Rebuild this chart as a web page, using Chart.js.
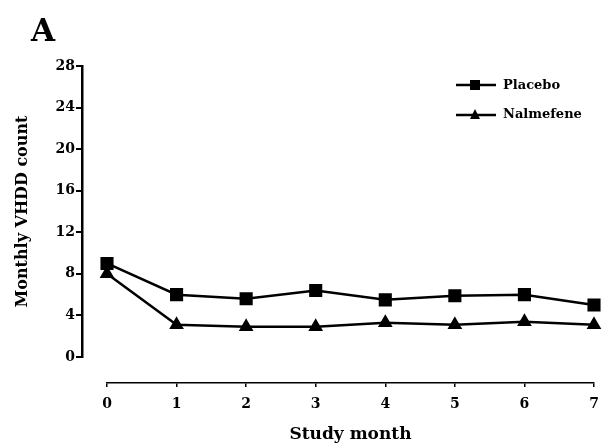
<!DOCTYPE html>
<html>
<head>
<meta charset="utf-8">
<script src="https://cdn.jsdelivr.net/npm/chart.js@4"></script>
<style>
  body { margin: 0; background: #fff; }
  #wrap { position: relative; width: 604px; height: 445px; }
  #panel { position: absolute; left: 31px; top: 12px; font: bold 31px "DejaVu Serif", serif; color: #000; }
  #legend { position: absolute; left: 455px; top: 70px; font: bold 13px "DejaVu Serif", serif; color: #000; }
  #legend div { display: flex; align-items: center; height: 29px; }
  #legend svg { margin-right: 6px; }
</style>
</head>
<body>
<div id="wrap">
  <canvas id="vhdd-chart" width="604" height="445"></canvas>
  <div id="panel">A</div>
  <div id="legend">
    <div><svg width="42" height="14"><line x1="1" y1="7" x2="41" y2="7" stroke="#000" stroke-width="2.5"/><rect x="15" y="2" width="10" height="10" fill="#000"/></svg>Placebo</div>
    <div><svg width="42" height="14"><line x1="1" y1="8" x2="41" y2="8" stroke="#000" stroke-width="2.5"/><polygon points="20,2 25,12 15,12" fill="#000"/></svg>Nalmefene</div>
  </div>
</div>
<script>
const months = ['0', '1', '2', '3', '4', '5', '6', '7'];
const placebo = [9.0, 6.0, 5.6, 6.4, 5.5, 5.9, 6.0, 5.0];
const nalmefene = [8.0, 3.1, 2.9, 2.9, 3.3, 3.1, 3.4, 3.1];
const yTicks = [0, 4, 8, 12, 16, 20, 24, 28];

const serif = '"DejaVu Serif", serif';

new Chart(document.getElementById('vhdd-chart'), {
    type: 'line',
    data: {
        labels: months,
        datasets: [
            {
                label: 'Placebo',
                data: placebo,
                borderColor: '#000',
                backgroundColor: '#000',
                borderWidth: 2.5,
                pointStyle: 'rect',
                pointRadius: 7.5,
                xAxisID: 'x',
                yAxisID: 'y',
                clip: false
            },
            {
                label: 'Nalmefene',
                data: nalmefene,
                borderColor: '#000',
                backgroundColor: '#000',
                borderWidth: 2.5,
                pointStyle: 'triangle',
                pointRadius: 6,
                xAxisID: 'x',
                yAxisID: 'y',
                clip: false
            }
        ]
    },
    options: {
        responsive: false,
        animation: false,
        events: [],
        layout: { padding: { left: 10, top: 66, right: 4, bottom: 0 } },
        plugins: {
            legend: { display: false },
            tooltip: { enabled: false }
        },
        scales: {
            x: {
                type: 'category',
                position: 'bottom',
                weight: 1,
                offset: false,
                afterFit: (scale) => { scale.height = 62; },
                border: { display: true, color: '#000', width: 1.5 },
                grid: { drawOnChartArea: false, drawTicks: true, tickLength: 4, color: '#000', lineWidth: 1.5 },
                // tall line height drops the labels below the axis without adding side padding
                ticks: { color: '#000', padding: 0, maxRotation: 0, font: { family: serif, size: 14, weight: 'bold', lineHeight: '35px' } },
                title: { display: true, text: 'Study month', color: '#000', padding: 0, font: { family: serif, size: 17, weight: 'bold' } }
            },
            y: {
                type: 'linear',
                position: 'left',
                weight: 1,
                min: 0,
                max: 28,
                afterFit: (scale) => { scale.width = 72; },
                afterBuildTicks: (scale) => { scale.ticks = yTicks.map(v => ({ value: v })); },
                border: { display: true, color: '#000', width: 2.5 },
                grid: { drawOnChartArea: false, drawTicks: true, tickLength: 6, color: '#000', lineWidth: 2 },
                ticks: { color: '#000', padding: 1, font: { family: serif, size: 14, weight: 'bold' } },
                title: { display: true, text: 'Monthly VHDD count', color: '#000', padding: 3, font: { family: serif, size: 16, weight: 'bold' } }
            },
            // empty spacer axes that pull the axis lines away from the plot
            x2: {
                type: 'linear',
                axis: 'x',
                position: 'bottom',
                weight: 0,
                afterFit: (scale) => { scale.height = 26; },
                border: { display: false },
                grid: { display: false },
                ticks: { display: false }
            },
            y2: {
                type: 'linear',
                axis: 'y',
                position: 'left',
                weight: 0,
                afterFit: (scale) => { scale.width = 25; },
                border: { display: false },
                grid: { display: false },
                ticks: { display: false }
            }
        }
    }
});
</script>
</body>
</html>
